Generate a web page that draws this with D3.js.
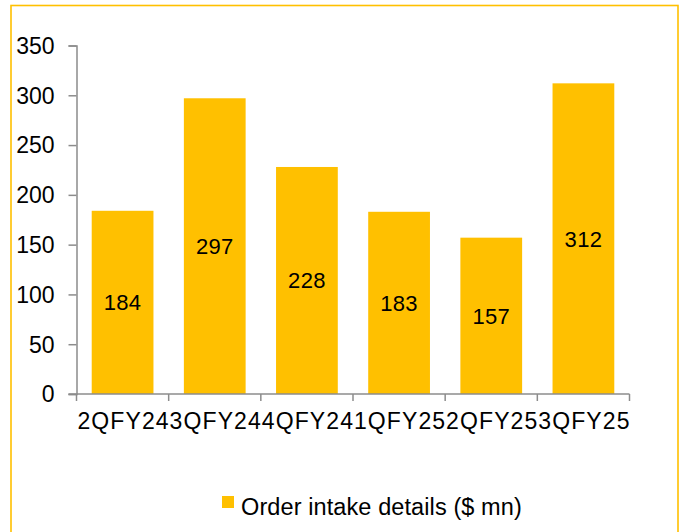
<!DOCTYPE html>
<html>
<head>
<meta charset="utf-8">
<script src="https://cdn.jsdelivr.net/npm/d3@7"></script>
<style>
  body { margin: 0; background: #fff; }
  svg { display: block; font-family: "Liberation Sans", Arial, sans-serif; }
</style>
</head>
<body>
<svg id="svg" width="692" height="532"></svg>
<script>
// chart data
const quarters = ["2QFY24", "3QFY24", "4QFY24", "1QFY25", "2QFY25", "3QFY25"]
const orderIntake = [184, 297, 228, 183, 157, 312]
const yTicks = [0, 50, 100, 150, 200, 250, 300, 350]
const seriesName = "Order intake details ($ mn)"

const gold = "#FFC000"
const axisGrey = "#8c8c8c"

const svg = d3.select("#svg")

// outer frame (bottom edge runs off the picture)
svg.append("rect")
    .attr("x", 11).attr("y", 5.5)
    .attr("width", 667).attr("height", 560)
    .attr("fill", "none")
    .attr("stroke", gold)
    .attr("stroke-width", 1.6)

const plot = { left: 76.5, right: 629.5, top: 45.5, bottom: 394 }

const x = d3.scaleBand()
    .domain(quarters)
    .range([plot.left, plot.right])
    .paddingInner(0.33)
    .paddingOuter(0.165)

const y = d3.scaleLinear()
    .domain([0, 350])
    .range([plot.bottom, plot.top])

// bars
svg.selectAll("rect.bar").data(orderIntake)
    .enter().append("rect")
        .attr("class", "bar")
        .attr("x", (d, i) => x(quarters[i]))
        .attr("width", x.bandwidth())
        .attr("y", d => y(d))
        .attr("height", d => y(0) - y(d))
        .attr("fill", gold)

// value labels in the middle of each bar
svg.selectAll("text.val").data(orderIntake)
    .enter().append("text")
        .attr("class", "val")
        .attr("x", (d, i) => x(quarters[i]) + x.bandwidth() / 2)
        .attr("y", d => (y(d) + y(0)) / 2)
        .attr("dy", "0.36em")
        .attr("text-anchor", "middle")
        .attr("font-size", 22)
        .attr("letter-spacing", 0.3)
        .attr("fill", "#000")
        .text(d => d)

// y axis
const yAxis = svg.append("g")
    .attr("transform", `translate(${plot.left},0)`)
    .call(d3.axisLeft(y).tickValues(yTicks).tickSize(8).tickPadding(14))
yAxis.select(".domain").attr("stroke", axisGrey).attr("stroke-width", 1.5)
yAxis.selectAll(".tick line").attr("stroke", axisGrey).attr("stroke-width", 1.5)
yAxis.selectAll(".tick text")
    .attr("font-size", 23)
    .attr("font-family", "Liberation Sans, Arial, sans-serif")
    .attr("dy", "0.34em")
    .attr("fill", "#000")

// x axis: line, boundary ticks, labels
svg.append("line")
    .attr("x1", plot.left - 8).attr("x2", plot.right)
    .attr("y1", y(0)).attr("y2", y(0))
    .attr("stroke", axisGrey).attr("stroke-width", 1.5)

const bounds = d3.range(quarters.length + 1).map(i => plot.left + i * x.step())
svg.selectAll("line.xt").data(bounds)
    .enter().append("line")
        .attr("class", "xt")
        .attr("x1", d => d).attr("x2", d => d)
        .attr("y1", y(0)).attr("y2", y(0) + 7)
        .attr("stroke", axisGrey).attr("stroke-width", 1.5)

svg.selectAll("text.cat").data(quarters)
    .enter().append("text")
        .attr("class", "cat")
        .attr("x", d => x(d) + x.bandwidth() / 2 + 1)
        .attr("y", 429)
        .attr("text-anchor", "middle")
        .attr("font-size", 23)
        .attr("letter-spacing", 1.1)
        .attr("fill", "#000")
        .text(d => d)

// legend
const legend = svg.append("g").attr("transform", "translate(222,496)")
legend.append("rect")
    .attr("width", 12).attr("height", 12)
    .attr("fill", gold)
legend.append("text")
    .attr("x", 19).attr("y", 19)
    .attr("font-size", 23.5)
    .attr("letter-spacing", 0.1)
    .attr("fill", "#000")
    .text(seriesName)
</script>
</body>
</html>
